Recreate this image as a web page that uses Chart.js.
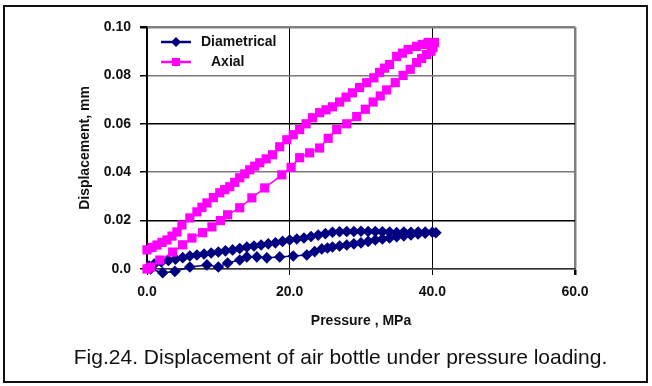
<!DOCTYPE html>
<html>
<head>
<meta charset="utf-8">
<script src="https://cdn.jsdelivr.net/npm/chart.js@4.4.1/dist/chart.umd.min.js"></script>
<style>
  html, body { margin: 0; padding: 0; background: #fff; }
  #wrap { position: relative; width: 652px; height: 386px; overflow: hidden; }
  #frame { position: absolute; left: 3px; top: 5px; width: 641px; height: 374px; border: 2px solid #111; box-sizing: content-box; pointer-events: none; }
  #c { position: absolute; left: 0; top: 0; }
  #caption { position: absolute; left: 0; width: 681px; top: 345px; text-align: center; font-family: "Liberation Sans", Arial, sans-serif; font-size: 21px; line-height: 24px; color: #111; }
</style>
</head>
<body>
<div id="wrap">
  <canvas id="c" width="652" height="386"></canvas>
  <div id="frame"></div>
  <div id="caption">Fig.24. Displacement of air bottle under pressure loading.</div>
</div>
<script>
// ---- Data ----
const seriesNames = ["Diametrical", "Axial"];
const xTickLabels = ["0.0", "20.0", "40.0", "60.0"];
const yTickLabels = ["0.0", "0.02", "0.04", "0.06", "0.08", "0.10"];

// Diametrical: loading branch then unloading branch
const diaLoadP = [0.5, 2.2, 3.9, 6.0, 8.4, 10.0, 11.3, 13.0, 14.0, 15.4, 16.8, 18.6, 20.5, 22.4, 23.5, 24.5, 25.3, 26.0, 27.0, 28.0, 29.0, 30.0, 31.0, 32.0, 33.0, 34.0, 35.0, 36.0, 37.0, 38.0, 39.0, 40.5];
const diaLoadD = [0.0, -0.0015, -0.0010, 0.0008, 0.0017, 0.0008, 0.0025, 0.0037, 0.0050, 0.0050, 0.0046, 0.0050, 0.0054, 0.0058, 0.0072, 0.0083, 0.0087, 0.0091, 0.0095, 0.0099, 0.0104, 0.0108, 0.0114, 0.0120, 0.0124, 0.0128, 0.0133, 0.0137, 0.0141, 0.0145, 0.0148, 0.0150];
const diaUnloadP = [40.0, 39.0, 38.0, 37.0, 36.0, 35.0, 34.0, 33.0, 32.0, 31.0, 30.0, 29.0, 28.0, 27.0, 26.0, 25.0, 24.0, 23.0, 22.0, 21.0, 20.0, 19.0, 18.0, 17.0, 16.0, 15.0, 14.0, 13.0, 12.0, 11.0, 10.0, 9.0, 8.0, 7.0, 6.0, 5.0, 4.0, 3.0, 2.0, 1.0, 0.3];
const diaUnloadD = [0.0152, 0.0153, 0.0153, 0.0152, 0.0153, 0.0151, 0.0153, 0.0154, 0.0155, 0.0155, 0.0156, 0.0155, 0.0155, 0.0154, 0.0152, 0.0146, 0.0140, 0.0134, 0.0128, 0.0124, 0.0120, 0.0114, 0.0108, 0.0104, 0.0099, 0.0095, 0.0091, 0.0085, 0.0079, 0.0075, 0.0070, 0.0066, 0.0062, 0.0058, 0.0054, 0.0047, 0.0041, 0.0035, 0.0029, 0.0020, 0.0012];

// Axial: loading branch then unloading branch
const axLoadP = [0.0, 0.5, 1.8, 3.6, 5.0, 6.3, 7.8, 9.1, 10.3, 11.3, 13.0, 14.7, 16.5, 18.9, 20.2, 21.4, 22.8, 24.2, 25.4, 26.6, 28.0, 29.4, 30.6, 31.7, 32.7, 33.6, 34.8, 35.9, 36.9, 37.8, 38.5, 39.2, 39.8, 40.1];
const axLoadD = [0.0, 0.0008, 0.0037, 0.0070, 0.0100, 0.0128, 0.0150, 0.0174, 0.0200, 0.0224, 0.0253, 0.0294, 0.0335, 0.0389, 0.0420, 0.0460, 0.0480, 0.0500, 0.0540, 0.0576, 0.0600, 0.0630, 0.0660, 0.0690, 0.0715, 0.0740, 0.0770, 0.0800, 0.0825, 0.0853, 0.0870, 0.0886, 0.0900, 0.0915];
const axUnloadP = [40.3, 39.4, 38.6, 37.8, 36.6, 35.8, 35.0, 34.0, 33.3, 32.6, 31.8, 30.8, 29.8, 28.8, 27.9, 27.0, 26.0, 25.1, 24.2, 23.2, 22.3, 21.4, 20.5, 19.6, 18.6, 17.6, 16.7, 15.8, 15.1, 14.4, 13.7, 13.0, 12.3, 11.6, 10.9, 10.2, 9.3, 8.4, 7.7, 7.0, 6.0, 4.9, 4.2, 3.5, 2.8, 2.1, 1.4, 0.7, 0.0];
const axUnloadD = [0.0936, 0.0936, 0.0928, 0.0920, 0.0907, 0.0892, 0.0878, 0.0845, 0.0830, 0.0812, 0.0790, 0.0770, 0.0750, 0.0728, 0.0710, 0.0690, 0.0670, 0.0658, 0.0646, 0.0625, 0.0600, 0.0576, 0.0555, 0.0534, 0.0505, 0.0472, 0.0455, 0.0439, 0.0425, 0.0410, 0.0393, 0.0377, 0.0358, 0.0340, 0.0328, 0.0315, 0.0295, 0.0273, 0.0255, 0.0236, 0.0211, 0.0182, 0.0153, 0.0136, 0.0120, 0.0110, 0.0099, 0.0089, 0.0079];

const toPts = (px, dy) => px.map((p, i) => ({ x: p, y: dy[i] }));
const diaData = toPts(diaLoadP.concat(diaUnloadP), diaLoadD.concat(diaUnloadD));
const axData = toPts(axLoadP.concat(axUnloadP), axLoadD.concat(axUnloadD));

const NAVY = "#000080";
const MAGENTA = "#FF00FF";
const FONT = "'Liberation Sans', Arial, sans-serif";

// Legend drawn inside the top-left of the plot area
const insideLegend = {
  id: "insideLegend",
  afterDraw(chart) {
    const { ctx, chartArea } = chart;
    const x0 = chartArea.left + 14, lineLen = 30;
    const rows = [
      { ds: chart.data.datasets[0], y: chartArea.top + 15, textX: chartArea.left + 54 },
      { ds: chart.data.datasets[1], y: chartArea.top + 35, textX: chartArea.left + 64 }
    ];
    ctx.save();
    rows.forEach(r => {
      ctx.strokeStyle = r.ds.borderColor;
      ctx.lineWidth = 2.5;
      ctx.beginPath();
      ctx.moveTo(x0, r.y);
      ctx.lineTo(x0 + lineLen, r.y);
      ctx.stroke();
      const cx = x0 + lineLen / 2;
      ctx.fillStyle = r.ds.backgroundColor;
      ctx.beginPath();
      if (r.ds.pointStyle === "rectRot") {
        ctx.moveTo(cx, r.y - 5); ctx.lineTo(cx + 5, r.y); ctx.lineTo(cx, r.y + 5); ctx.lineTo(cx - 5, r.y);
      } else {
        ctx.rect(cx - 4, r.y - 4, 8, 8);
      }
      ctx.closePath();
      ctx.fill();
      ctx.fillStyle = "#111";
      ctx.font = "bold 14px " + FONT;
      ctx.textBaseline = "middle";
      ctx.textAlign = "left";
      ctx.fillText(r.ds.label, r.textX, r.y + 0.5);
    });
    ctx.restore();
  }
};

const yGridColor = v => (Math.abs(v - 0.02) < 1e-6 || Math.abs(v - 0.06) < 1e-6) ? "#000" : "#7a7a7a";

new Chart(document.getElementById("c"), {
  type: "scatter",
  data: {
    datasets: [
      {
        label: seriesNames[0], data: diaData, showLine: true,
        borderColor: NAVY, backgroundColor: NAVY, borderWidth: 1.5,
        pointStyle: "rectRot", pointRadius: 5.8, pointBorderWidth: 0, pointHoverRadius: 5.8,
        order: 2, clip: false
      },
      {
        label: seriesNames[1], data: axData, showLine: true,
        borderColor: MAGENTA, backgroundColor: MAGENTA, borderWidth: 1.5,
        pointStyle: "rect", pointRadius: 6.5, pointBorderWidth: 0, pointHoverRadius: 6.5,
        order: 1, clip: false
      }
    ]
  },
  plugins: [insideLegend],
  options: {
    responsive: false,
    animation: false,
    events: [],
    layout: { padding: { top: 27, left: 0, right: 77, bottom: 0 } },
    plugins: { legend: { display: false }, tooltip: { enabled: false } },
    scales: {
      x: {
        type: "linear", min: 0, max: 60,
        afterFit: s => { s.height = 117; },
        afterBuildTicks: s => { s.ticks = xTickLabels.map(t => ({ value: parseFloat(t) })); },
        ticks: {
          callback: (v, i) => xTickLabels[i],
          color: "#111", font: { family: FONT, size: 14, weight: "bold" }, padding: 9, maxRotation: 0
        },
        grid: {
          color: c => c.tick && c.tick.value === 60 ? "#808080" : "#000",
          lineWidth: c => c.tick && c.tick.value === 60 ? 2.5 : 1,
          tickColor: "#000", tickLength: 6, drawTicks: true
        },
        border: { color: "#333", width: 1.5 },
        title: { display: true, text: "Pressure , MPa", color: "#111", font: { family: FONT, size: 14, weight: "bold" }, padding: { top: 0, bottom: 56 } }
      },
      y: {
        type: "linear", min: 0, max: 0.1,
        afterFit: s => { s.width = 147; },
        afterBuildTicks: s => { s.ticks = yTickLabels.map(t => ({ value: parseFloat(t) })); },
        ticks: {
          callback: (v, i) => yTickLabels[i],
          color: "#111", font: { family: FONT, size: 14, weight: "bold" }, padding: 9
        },
        grid: {
          color: c => c.tick ? (Math.abs(c.tick.value - 0.1) < 1e-6 ? "#808080" : yGridColor(c.tick.value)) : "#000",
          lineWidth: c => c.tick && Math.abs(c.tick.value - 0.1) < 1e-6 ? 2.5 : 1.5,
          tickColor: "#000", tickLength: 7
        },
        border: { color: "#000", width: 1.5 },
        title: { display: true, text: "Displacement, mm", color: "#111", font: { family: FONT, size: 14, weight: "bold" }, padding: { top: 77, bottom: 0 } }
      }
    }
  }
});
</script>
</body>
</html>
